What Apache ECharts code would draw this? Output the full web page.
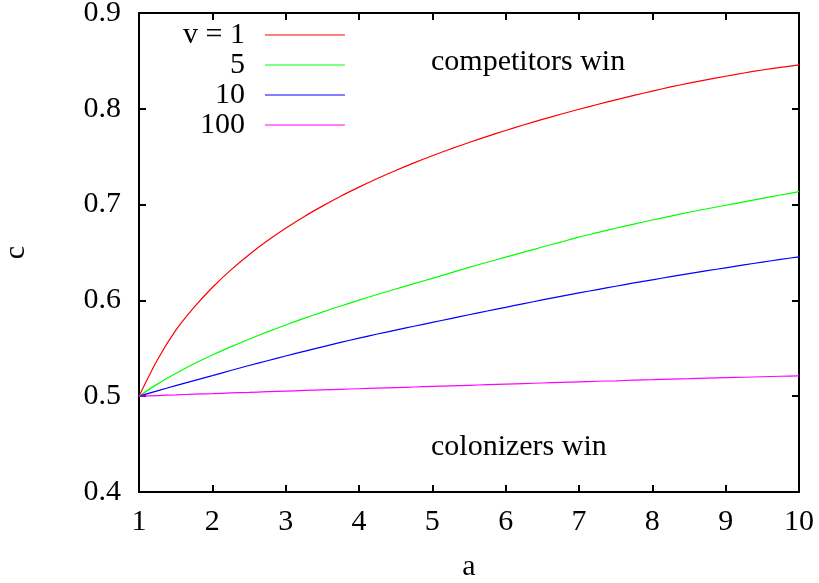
<!DOCTYPE html>
<html>
<head>
<meta charset="utf-8">
<script src="https://cdn.jsdelivr.net/npm/echarts@6/dist/echarts.min.js"></script>
<style>
  html, body { margin: 0; padding: 0; background: #fff; }
  #chart { width: 819px; height: 583px; }
</style>
</head>
<body>
<div id="chart"></div>
<script>
// ---- data ----
const aValues = [1, 1.25, 1.5, 1.75, 2, 2.25, 2.5, 2.75, 3, 3.25, 3.5, 3.75, 4, 4.25, 4.5, 4.75, 5, 5.25, 5.5, 5.75,
                 6, 6.25, 6.5, 6.75, 7, 7.25, 7.5, 7.75, 8, 8.25, 8.5, 8.75, 9, 9.25, 9.5, 9.75, 10];
const cV1   = [0.5000, 0.5378, 0.5687, 0.5928, 0.6135, 0.6316, 0.6477, 0.6622, 0.6753, 0.6874, 0.6984, 0.7087, 0.7182,
               0.7272, 0.7356, 0.7435, 0.7510, 0.7581, 0.7648, 0.7712, 0.7774, 0.7833, 0.7889, 0.7943, 0.7995, 0.8045,
               0.8093, 0.8140, 0.8185, 0.8228, 0.8268, 0.8305, 0.8340, 0.8374, 0.8405, 0.8432, 0.8459];
const cV5   = [0.5000, 0.5126, 0.5237, 0.5338, 0.5430, 0.5515, 0.5595, 0.5671, 0.5743, 0.5812, 0.5878, 0.5941, 0.6003,
               0.6062, 0.6119, 0.6175, 0.6230, 0.6288, 0.6345, 0.6398, 0.6451, 0.6504, 0.6557, 0.6609, 0.6661, 0.6707,
               0.6753, 0.6797, 0.6839, 0.6880, 0.6920, 0.6957, 0.6993, 0.7029, 0.7065, 0.7100, 0.7135];
const cV10  = [0.5000, 0.5056, 0.5110, 0.5163, 0.5215, 0.5268, 0.5320, 0.5370, 0.5420, 0.5468, 0.5515, 0.5561, 0.5606,
               0.5649, 0.5690, 0.5730, 0.5770, 0.5810, 0.5850, 0.5889, 0.5928, 0.5967, 0.6005, 0.6042, 0.6078, 0.6113,
               0.6148, 0.6182, 0.6215, 0.6248, 0.6280, 0.6310, 0.6340, 0.6370, 0.6400, 0.6428, 0.6455];
const cV100 = [0.5000, 0.5007, 0.5014, 0.5021, 0.5027, 0.5034, 0.5040, 0.5047, 0.5053, 0.5060, 0.5066, 0.5072, 0.5078,
               0.5084, 0.5090, 0.5096, 0.5102, 0.5108, 0.5114, 0.5120, 0.5126, 0.5132, 0.5138, 0.5144, 0.5150, 0.5156,
               0.5161, 0.5167, 0.5172, 0.5178, 0.5183, 0.5188, 0.5193, 0.5198, 0.5203, 0.5208, 0.5212];
const seriesNames = ['v = 1', '5', '10', '100'];
const seriesColors = ['#ff0000', '#00ff00', '#0000ff', '#ff00ff'];
const xTicks = [1, 2, 3, 4, 5, 6, 7, 8, 9, 10];
const yTicks = [0.4, 0.5, 0.6, 0.7, 0.8, 0.9];
const regionLabels = ['competitors win', 'colonizers win'];

const FONT = "'Liberation Serif', 'Times New Roman', serif";
const FS = 30;

function pairs(ys) { return aValues.map((a, i) => [a, ys[i]]); }
const allC = [cV1, cV5, cV10, cV100];

const chart = echarts.init(document.getElementById('chart'), null, { renderer: 'canvas' });

const axisCommon = {
  type: 'value',
  axisLine: { show: true, lineStyle: { color: '#000', width: 2 } },
  axisTick: { show: true, inside: true, length: 7, lineStyle: { color: '#000', width: 2 } },
  splitLine: { show: false },
};

const option = {
  animation: false,
  backgroundColor: '#fff',
  textStyle: { fontFamily: FONT },
  grid: { left: 139, right: 20, top: 13, bottom: 91, containLabel: false, outerBoundsMode: 'none' },
  legend: {
    data: seriesNames,
    orient: 'vertical',
    left: 183,
    top: 20,
    align: 'right',
    padding: 0,
    itemGap: 0,
    itemWidth: 80,
    itemHeight: 1,
    icon: 'rect',
    selectedMode: false,
    textStyle: { fontFamily: FONT, fontSize: FS, color: '#000', lineHeight: 30, padding: [0, 15, 0, 0] }
  },
  xAxis: [
    Object.assign({}, axisCommon, {
      position: 'bottom', min: 1, max: 10, interval: 1,
      name: 'a', nameLocation: 'middle', nameGap: 60,
      nameTextStyle: { fontFamily: FONT, fontSize: FS, color: '#000' },
      axisLabel: { show: true, margin: 15, fontFamily: FONT, fontSize: FS, color: '#000',
        formatter: v => (xTicks.indexOf(v) >= 0 ? String(v) : '') }
    }),
    Object.assign({}, axisCommon, {
      position: 'top', min: 1, max: 10, interval: 1, axisLabel: { show: false }
    })
  ],
  yAxis: [
    Object.assign({}, axisCommon, {
      position: 'left', min: 0.4, max: 0.9, interval: 0.1,
      name: 'c', nameLocation: 'middle', nameGap: 108, nameRotate: 90,
      nameTextStyle: { fontFamily: FONT, fontSize: FS, color: '#000' },
      axisLabel: { show: true, margin: 18, fontFamily: FONT, fontSize: FS, color: '#000',
        formatter: v => { const t = yTicks.find(y => Math.abs(y - v) < 1e-6); return t !== undefined ? t.toFixed(1) : ''; } }
    }),
    Object.assign({}, axisCommon, {
      position: 'right', min: 0.4, max: 0.9, interval: 0.1, axisLabel: { show: false }
    })
  ],
  series: seriesNames.map((n, i) => ({
    name: n,
    type: 'line',
    xAxisIndex: 0,
    yAxisIndex: 0,
    data: pairs(allC[i]),
    smooth: 0.3,
    showSymbol: false,
    symbol: 'none',
    color: seriesColors[i],
    lineStyle: { color: seriesColors[i], width: 1.2 },
    z: 2
  })),
  graphic: [
    { type: 'text', left: 431, top: 47,
      style: { text: regionLabels[0], font: FS + 'px ' + FONT, fill: '#000' } },
    { type: 'text', left: 431, top: 432,
      style: { text: regionLabels[1], font: FS + 'px ' + FONT, fill: '#000' } }
  ]
};

chart.setOption(option);
</script>
</body>
</html>
